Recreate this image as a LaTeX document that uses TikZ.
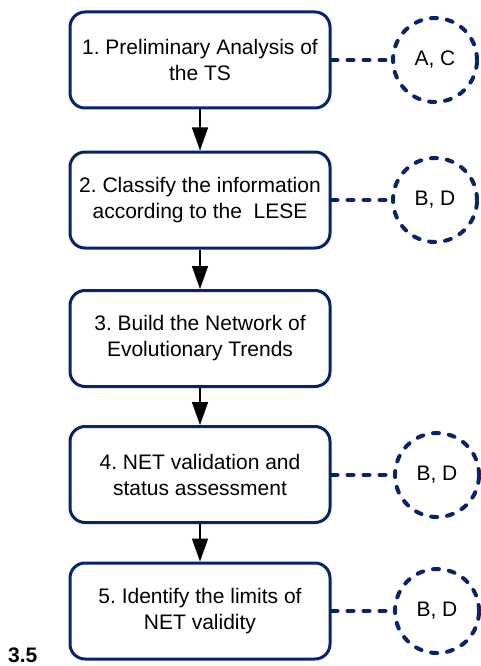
\documentclass[tikz,border=0pt]{standalone}
\usepackage{fontspec}
\setmainfont{Liberation Sans}
\usetikzlibrary{arrows.meta}
\definecolor{navy}{RGB}{8,36,100}
\frenchspacing
\begin{document}
\begin{tikzpicture}[x=1pt,y=-1pt,
  stepbox/.style={draw=navy,line width=3pt,rounded corners=15pt,minimum width=260pt,minimum height=96pt,align=center,inner sep=0pt,font=\fontsize{21}{26}\selectfont},
  refc/.style={draw=navy,line width=4pt,circle,minimum size=84pt,inner sep=0pt,dash pattern=on 6pt off 10pt,line cap=round,font=\fontsize{21}{26}\selectfont},
  link/.style={draw=navy,line width=4pt,dash pattern=on 6pt off 10pt,line cap=round},
  flow/.style={draw=black,line width=1.5pt,-{Triangle[width=16pt,length=23pt]}}]
\useasboundingbox (0,0) rectangle (480,666);
\node[stepbox] (s1) at (200,60) {1. Preliminary Analysis of\\the TS};
\node[stepbox] (s2) at (200,200) {2. Classify the information\\according to the \ LESE};
\node[stepbox] (s3) at (200,338.5) {3. Build the Network of\\Evolutionary Trends};
\node[stepbox] (s4) at (200,474.5) {4. NET validation and\\status assessment};
\node[stepbox] (s5) at (200,611) {5. Identify the limits of\\NET validity};
\node[refc] (c1) at (435,60) {A, C};
\node[refc] (c2) at (435,200) {B, D};
\node[refc] (c4) at (437,475) {B, D};
\node[refc] (c5) at (437,611) {B, D};
\draw[link] (s1.east) -- (c1.west);
\draw[link] (s2.east) -- (c2.west);
\draw[link] (s4.east |- c4) -- (c4.west);
\draw[link] (s5.east) -- (c5.west);
\draw[flow] (s1) -- (s2);
\draw[flow] (s2) -- (s3);
\draw[flow] (s3) -- (s4);
\draw[flow] (s4) -- (s5);
\node[anchor=base west,inner sep=0pt,font=\fontsize{21}{26}\selectfont\bfseries] (lbl) at (8,662) {3.5};
\end{tikzpicture}
\end{document}
